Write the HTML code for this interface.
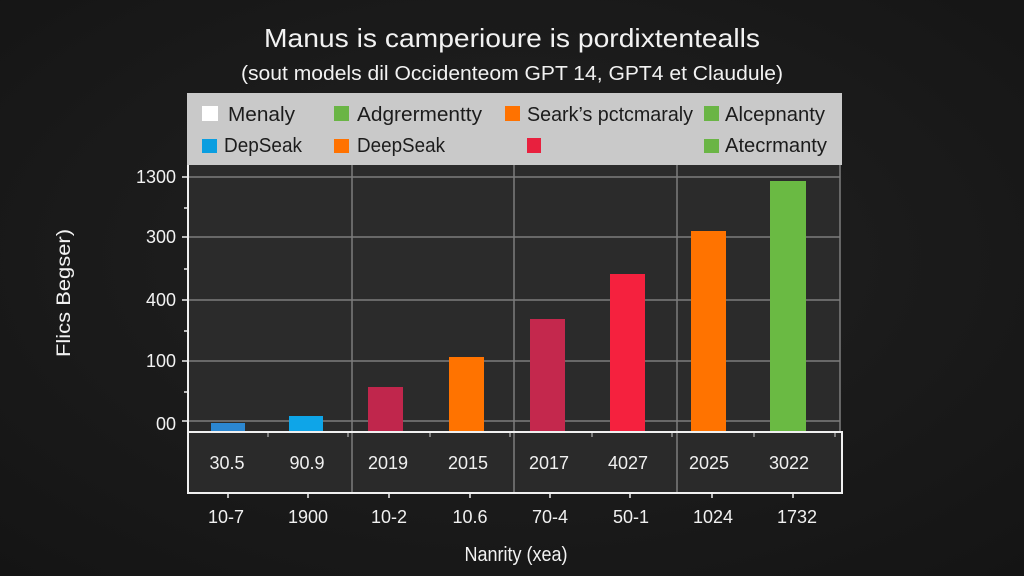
<!DOCTYPE html>
<html>
<head>
<meta charset="utf-8">
<style>
  html, body { margin: 0; padding: 0; background: #1a1a1a; }
  body { width: 1024px; height: 576px; overflow: hidden; }
  svg { display: block; }
  text { font-family: "Liberation Sans", "DejaVu Sans", sans-serif; }
</style>
</head>
<body>
<svg width="1024" height="576" viewBox="0 0 1024 576" xmlns="http://www.w3.org/2000/svg">
  <defs>
    <radialGradient id="bg" cx="50%" cy="45%" r="75%">
      <stop offset="0%" stop-color="#222222"/>
      <stop offset="100%" stop-color="#141414"/>
    </radialGradient>
  </defs>
  <rect x="0" y="0" width="1024" height="576" fill="url(#bg)"/>

  <!-- Title -->
  <text x="512" y="47" text-anchor="middle" fill="#f2f2f2" font-size="26" textLength="496" lengthAdjust="spacingAndGlyphs">Manus is camperioure is pordixtentealls</text>
  <text x="512" y="80" text-anchor="middle" fill="#f2f2f2" font-size="20" textLength="542" lengthAdjust="spacingAndGlyphs">(sout models dil Occidenteom GPT 14, GPT4 et Claudule)</text>

  <!-- Legend box -->
  <rect x="187" y="93" width="655" height="72" fill="#c9c9c9"/>
  <rect x="202" y="106" width="16" height="15" fill="#ffffff"/>
  <text x="228" y="121" font-size="20" fill="#1c1c1c" textLength="67" lengthAdjust="spacingAndGlyphs">Menaly</text>
  <rect x="334" y="106" width="15" height="15" fill="#6ab545"/>
  <text x="357" y="121" font-size="20" fill="#1c1c1c" textLength="125" lengthAdjust="spacingAndGlyphs">Adgrermentty</text>
  <rect x="505" y="106" width="15" height="15" fill="#ff7200"/>
  <text x="527" y="121" font-size="20" fill="#1c1c1c" textLength="166" lengthAdjust="spacingAndGlyphs">Seark’s pctcmaraly</text>
  <rect x="704" y="106" width="15" height="15" fill="#6ab545"/>
  <text x="725" y="121" font-size="20" fill="#1c1c1c" textLength="100" lengthAdjust="spacingAndGlyphs">Alcepnanty</text>

  <rect x="202" y="139" width="15" height="14" fill="#0a9ee0"/>
  <text x="224" y="152" font-size="20" fill="#1c1c1c" textLength="78" lengthAdjust="spacingAndGlyphs">DepSeak</text>
  <rect x="334" y="139" width="15" height="14" fill="#ff7200"/>
  <text x="357" y="152" font-size="20" fill="#1c1c1c" textLength="88" lengthAdjust="spacingAndGlyphs">DeepSeak</text>
  <rect x="527" y="138" width="14" height="15" fill="#e8203e"/>
  <rect x="704" y="139" width="15" height="14" fill="#6ab545"/>
  <text x="725" y="152" font-size="20" fill="#1c1c1c" textLength="102" lengthAdjust="spacingAndGlyphs">Atecrmanty</text>

  <!-- Plot area -->
  <rect x="188" y="165" width="652" height="267" fill="#2b2b2b"/>
  <!-- Table area -->
  <rect x="188" y="432" width="654" height="61" fill="#2a2a2a"/>

  <!-- horizontal grid -->
  <g stroke="#7c7c7c" stroke-width="1.5">
    <line x1="188" y1="177" x2="840" y2="177"/>
    <line x1="188" y1="237" x2="840" y2="237"/>
    <line x1="188" y1="300" x2="840" y2="300"/>
    <line x1="188" y1="361" x2="840" y2="361"/>
    <line x1="188" y1="421" x2="840" y2="421"/>
  </g>
  <!-- vertical grid -->
  <g stroke="#7c7c7c" stroke-width="1.5">
    <line x1="352" y1="165" x2="352" y2="493"/>
    <line x1="514" y1="165" x2="514" y2="493"/>
    <line x1="677" y1="165" x2="677" y2="493"/>
    <line x1="840" y1="165" x2="840" y2="432"/>
  </g>

  <!-- Bars -->
  <rect x="211" y="423" width="34" height="9" fill="#2b87d1"/>
  <rect x="289" y="416" width="34" height="16" fill="#0ea5e8"/>
  <rect x="368" y="387" width="35" height="45" fill="#c0264c"/>
  <rect x="449" y="357" width="35" height="75" fill="#ff7300"/>
  <rect x="530" y="319" width="35" height="113" fill="#c4284d"/>
  <rect x="610" y="274" width="35" height="158" fill="#f5213e"/>
  <rect x="691" y="231" width="35" height="201" fill="#ff7300"/>
  <rect x="770" y="181" width="36" height="251" fill="#6aba43"/>

  <!-- Axes -->
  <line x1="188" y1="165" x2="188" y2="494" stroke="#f0f0f0" stroke-width="2"/>
  <line x1="187" y1="432" x2="843" y2="432" stroke="#f0f0f0" stroke-width="2"/>
  <line x1="187" y1="493" x2="843" y2="493" stroke="#f0f0f0" stroke-width="2"/>
  <line x1="842" y1="432" x2="842" y2="494" stroke="#f0f0f0" stroke-width="2"/>

  <!-- y ticks -->
  <g stroke="#f0f0f0" stroke-width="1.5">
    <line x1="182" y1="177" x2="188" y2="177"/>
    <line x1="182" y1="237" x2="188" y2="237"/>
    <line x1="182" y1="300" x2="188" y2="300"/>
    <line x1="182" y1="361" x2="188" y2="361"/>
    <line x1="182" y1="421" x2="188" y2="421"/>
    <line x1="184" y1="208" x2="188" y2="208"/>
    <line x1="184" y1="269" x2="188" y2="269"/>
    <line x1="184" y1="331" x2="188" y2="331"/>
    <line x1="184" y1="392" x2="188" y2="392"/>
  </g>
  <!-- small ticks at table top -->
  <g stroke="#d0d0d0" stroke-width="1">
    <line x1="268" y1="433" x2="268" y2="437"/>
    <line x1="348" y1="433" x2="348" y2="437"/>
    <line x1="430" y1="433" x2="430" y2="437"/>
    <line x1="510" y1="433" x2="510" y2="437"/>
    <line x1="592" y1="433" x2="592" y2="437"/>
    <line x1="672" y1="433" x2="672" y2="437"/>
    <line x1="754" y1="433" x2="754" y2="437"/>
    <line x1="835" y1="433" x2="835" y2="437"/>
  </g>
  <!-- ticks under table -->
  <g stroke="#f0f0f0" stroke-width="1.5">
    <line x1="228" y1="493" x2="228" y2="498"/>
    <line x1="308" y1="493" x2="308" y2="498"/>
    <line x1="389" y1="493" x2="389" y2="498"/>
    <line x1="470" y1="493" x2="470" y2="498"/>
    <line x1="550" y1="493" x2="550" y2="498"/>
    <line x1="630" y1="493" x2="630" y2="498"/>
    <line x1="712" y1="493" x2="712" y2="498"/>
    <line x1="793" y1="493" x2="793" y2="498"/>
  </g>

  <!-- y labels -->
  <g font-size="18" fill="#f2f2f2" text-anchor="end">
    <text x="176" y="183">1300</text>
    <text x="176" y="243">300</text>
    <text x="176" y="306">400</text>
    <text x="176" y="367">100</text>
    <text x="176" y="430">00</text>
  </g>

  <!-- table values -->
  <g font-size="18" fill="#f0f0f0" text-anchor="middle">
    <text x="227" y="469">30.5</text>
    <text x="307" y="469">90.9</text>
    <text x="388" y="469">2019</text>
    <text x="468" y="469">2015</text>
    <text x="549" y="469">2017</text>
    <text x="628" y="469">4027</text>
    <text x="709" y="469">2025</text>
    <text x="789" y="469">3022</text>
  </g>

  <!-- x labels -->
  <g font-size="18" fill="#f0f0f0" text-anchor="middle">
    <text x="226" y="523">10-7</text>
    <text x="308" y="523">1900</text>
    <text x="389" y="523">10-2</text>
    <text x="470" y="523">10.6</text>
    <text x="550" y="523">70-4</text>
    <text x="631" y="523">50-1</text>
    <text x="713" y="523">1024</text>
    <text x="797" y="523">1732</text>
  </g>

  <!-- axis titles -->
  <text x="516" y="561" text-anchor="middle" font-size="20" fill="#f2f2f2" textLength="103" lengthAdjust="spacingAndGlyphs">Nanrity (xea)</text>
  <text transform="translate(70,293) rotate(-90)" text-anchor="middle" font-size="19" fill="#f2f2f2" textLength="128" lengthAdjust="spacingAndGlyphs">Flics Begser)</text>
</svg>
</body>
</html>
